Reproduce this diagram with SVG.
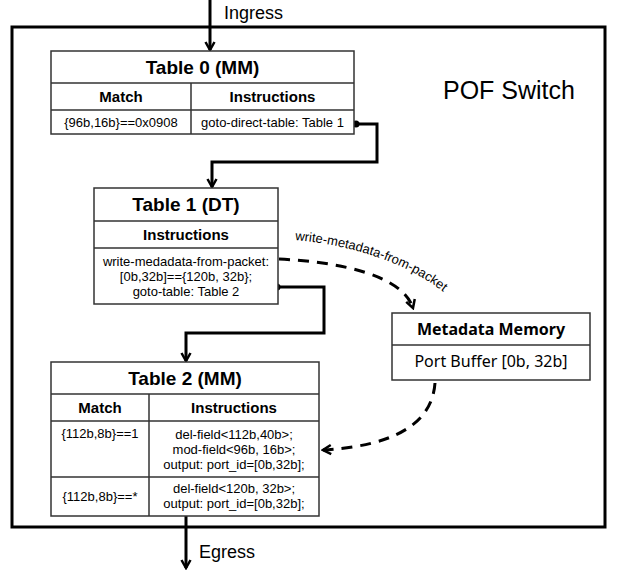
<svg xmlns="http://www.w3.org/2000/svg" width="618" height="574" viewBox="0 0 618 574">
<style>
.box{fill:#fff;stroke:#333;stroke-width:1.5}
.ln{stroke:#333;stroke-width:1.5;fill:none}
.t{font-family:"Liberation Sans",Arial,sans-serif;font-size:13px;fill:#000;text-anchor:middle}
.title{font-family:"Liberation Sans",Arial,sans-serif;font-size:19px;font-weight:bold;fill:#000;text-anchor:middle}
.hd{font-family:"Liberation Sans",Arial,sans-serif;font-size:15px;font-weight:bold;fill:#000;text-anchor:middle}
.big{font-family:"Liberation Sans",Arial,sans-serif;font-size:18px;fill:#000}
.mm{font-family:"Noto Sans","Open Sans",sans-serif;font-size:16px;fill:#000;text-anchor:middle}
.conn{stroke:#000;stroke-width:3;fill:none}
.dash{stroke:#000;stroke-width:3;fill:none;stroke-dasharray:11 8}
</style>
<defs>
<marker id="ah" viewBox="0 0 12 12" refX="10" refY="6" markerWidth="12" markerHeight="12" markerUnits="userSpaceOnUse" orient="auto">
<path d="M2,1.5 L10,6 L2,10.5" fill="none" stroke="#000" stroke-width="2.5"/>
</marker>
<path id="lblpath" d="M295,240 C350,245 410,262 452,299"/>
</defs>

<g id="switch">
<rect x="12" y="27" width="593" height="500" fill="none" stroke="#000" stroke-width="3"/>
<text x="443" y="99" style="font-family:'Liberation Sans',Arial,sans-serif;font-size:25px">POF Switch</text>
</g>

<g id="connectors">
<path class="conn" d="M210,0 V50" marker-end="url(#ah)"/>
<path class="conn" d="M356,124 H377 V162 H212 V187" marker-end="url(#ah)"/>
<circle cx="356" cy="124" r="3.5" fill="#000"/>
<path class="conn" d="M277,287 H324 V333 H186 V361" marker-end="url(#ah)"/>
<circle cx="277" cy="287" r="3.5" fill="#000"/>
<path class="conn" d="M186,516 V568" marker-end="url(#ah)"/>
<path class="dash" d="M279,259 C340,262 402,275 413,308" marker-end="url(#ah)"/>
<path class="dash" d="M435,383 C432,425 392,446 323,450" marker-end="url(#ah)"/>
<text style="font-family:'Liberation Sans',Arial,sans-serif;font-size:13px"><textPath href="#lblpath">write-metadata-from-packet</textPath></text>
<text class="big" x="224" y="19">Ingress</text>
<text class="big" x="199" y="558">Egress</text>
</g>

<g id="table0">
<rect class="box" x="51" y="51" width="303" height="83"/>
<path class="ln" d="M51,83 H354 M51,110 H354 M191,83 V134"/>
<text class="title" x="202.5" y="74">Table 0 (MM)</text>
<text class="hd" x="121" y="102">Match</text>
<text class="hd" x="272.5" y="102">Instructions</text>
<text class="t" x="121" y="127">{96b,16b}==0x0908</text>
<text class="t" x="272.5" y="127">goto-direct-table: Table 1</text>
</g>

<g id="table1">
<rect class="box" x="94" y="188" width="184" height="116"/>
<path class="ln" d="M94,221 H278 M94,248 H278"/>
<text class="title" x="186" y="211">Table 1 (DT)</text>
<text class="hd" x="186" y="240">Instructions</text>
<text class="t" x="186" y="266">write-medadata-from-packet:</text>
<text class="t" x="186" y="281">[0b,32b]=={120b, 32b};</text>
<text class="t" x="186" y="296">goto-table: Table 2</text>
</g>

<g id="metadata">
<rect class="box" x="392" y="313" width="198" height="67"/>
<path class="ln" d="M392,345 H590"/>
<text class="mm" x="491" y="335" font-weight="bold">Metadata Memory</text>
<text class="mm" x="491" y="367">Port Buffer [0b, 32b]</text>
</g>

<g id="table2">
<rect class="box" x="51" y="362" width="268" height="154"/>
<path class="ln" d="M51,394 H319 M51,421 H319 M51,477 H319 M149,394 V516"/>
<text class="title" x="185" y="385">Table 2 (MM)</text>
<text class="hd" x="100" y="413">Match</text>
<text class="hd" x="234" y="413">Instructions</text>
<text class="t" x="100" y="438">{112b,8b}==1</text>
<text class="t" x="234" y="439">del-field&lt;112b,40b&gt;;</text>
<text class="t" x="234" y="454">mod-field&lt;96b, 16b&gt;;</text>
<text class="t" x="234" y="469">output: port_id=[0b,32b];</text>
<text class="t" x="100" y="501">{112b,8b}==*</text>
<text class="t" x="234" y="493">del-field&lt;120b, 32b&gt;;</text>
<text class="t" x="234" y="508">output: port_id=[0b,32b];</text>
</g>
</svg>
